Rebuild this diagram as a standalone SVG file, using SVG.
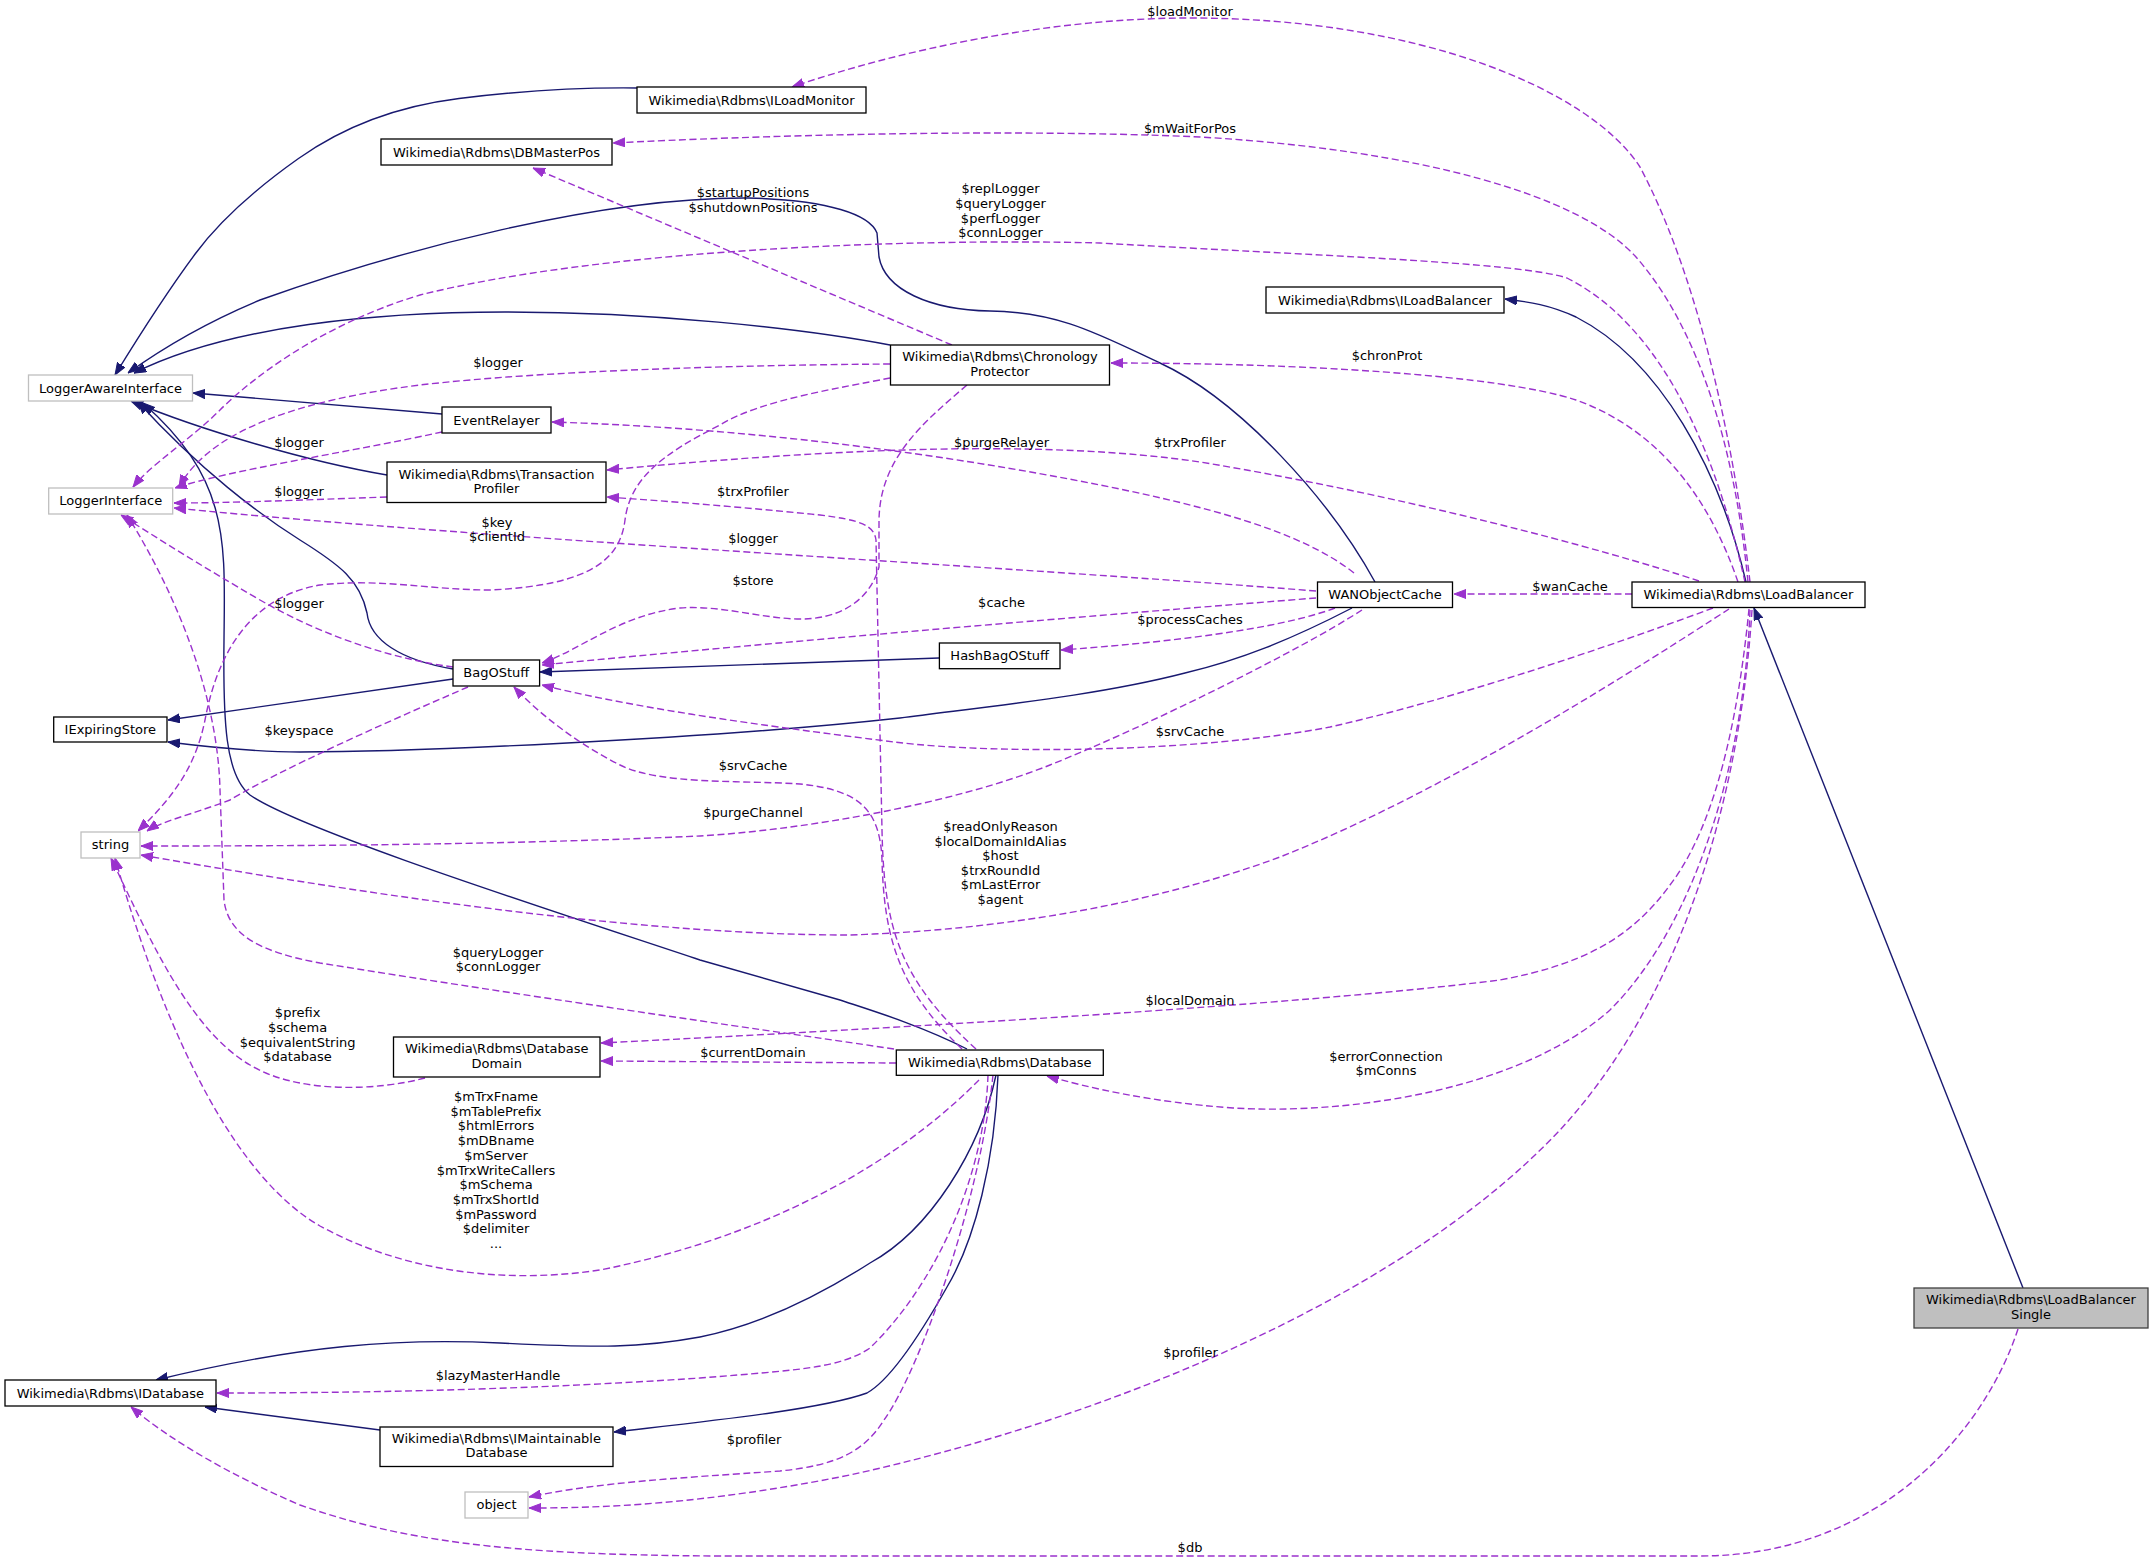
<svg xmlns="http://www.w3.org/2000/svg" width="2153" height="1561" viewBox="0 0 2153 1561">
<style>
text{font-family:"DejaVu Sans","Liberation Sans",sans-serif;font-size:13px;fill:#000;text-anchor:middle}
.n rect{fill:#fff;stroke:#000;stroke-width:1.3}
.g rect{fill:#fff;stroke:#bfbfbf;stroke-width:1.3}
.cur rect{fill:#bfbfbf;stroke:#404040;stroke-width:1.3}
.i{fill:none;stroke:#191970;stroke-width:1.4;marker-end:url(#ai)}
.u{fill:none;stroke:#9a32cd;stroke-width:1.4;stroke-dasharray:7,3.5;marker-end:url(#au)}
</style>
<defs>
<marker id="ai" markerUnits="userSpaceOnUse" markerWidth="12" markerHeight="10" refX="12" refY="5" orient="auto"><path d="M0,0.5 L12,5 L0,9.5 z" fill="#191970" stroke="#191970"/></marker>
<marker id="au" markerUnits="userSpaceOnUse" markerWidth="12" markerHeight="10" refX="12" refY="5" orient="auto"><path d="M0,0.5 L12,5 L0,9.5 z" fill="#9a32cd" stroke="#9a32cd"/></marker>
</defs>
<rect width="2153" height="1561" fill="#fff"/>
<g id="edges">
<!-- inheritance -->
<path class="i" d="M637,88 Q551,87 459,98.5 Q367,110 298.5,158.5 Q230,207 195.5,253.5 Q161,300 115,375"/>
<path class="i" d="M890,345 C800,328 650,312 505,312 C380,312 230,325 134,373"/>
<path class="i" d="M1375,582 C1330,500 1240,400 1160,363 C1100,335 1060,312 990,311 C930,310 885,290 879,257 L877,233 C870,215 830,200 748,198 C600,197 400,250 260,300 C200,325 160,350 128,373"/>
<path class="i" d="M442,414 L193,393"/>
<path class="i" d="M387,475 C310,462 200,430 131,401"/>
<path class="i" d="M453,669 C400,660 370,640 367,613 C360,580 340,565 300,540 C260,515 200,470 138,402"/>
<path class="i" d="M967,1049 C920,1025 870,1010 840,1000 L700,960 C550,910 300,830 250,795 C225,775 223,720 224,640 C225,540 230,480 143,403"/>
<path class="i" d="M453,679 L168,720"/>
<path class="i" d="M1352,608 C1290,640 1240,660 1185,673 C1100,695 1000,705 900,718 C700,740 400,752 300,752 C250,752 200,746 168,742"/>
<path class="i" d="M939,658 L540,672"/>
<path class="i" d="M1746,582 C1720,470 1660,360 1576,317 C1550,305 1530,302 1505,299"/>
<path class="i" d="M2023,1288 L1754,608"/>
<path class="i" d="M996,1075 C980,1150 930,1230 870,1263 C820,1295 760,1325 700,1337 C640,1348 600,1348 500,1343 C400,1338 300,1345 156,1380"/>
<path class="i" d="M998,1075 C995,1160 975,1240 947,1287 C920,1335 890,1380 867,1393 C820,1410 700,1422 614,1432"/>
<path class="i" d="M380,1430 L205,1407"/>
<!-- usage -->
<path class="u" d="M1750,582 C1735,450 1700,280 1640,167 C1590,90 1420,18 1190,18 C1050,18 900,50 792,87"/>
<path class="u" d="M1748,582 C1735,450 1700,330 1636,257 C1580,195 1420,150 1200,137 C1000,128 750,136 613,143"/>
<path class="u" d="M1745,582 C1720,470 1670,330 1567,278 C1520,262 1300,255 1100,243 C900,238 600,250 420,295 C320,325 250,380 220,410 C190,440 150,465 133,487"/>
<path class="u" d="M1738,582 C1710,500 1660,430 1576,400 C1500,375 1300,363 1111,363"/>
<path class="u" d="M890,364 C750,365 550,370 420,385 C300,400 210,430 179,487"/>
<path class="u" d="M442,432 C350,452 230,470 175,488"/>
<path class="u" d="M387,497 C300,500 230,503 174,503"/>
<path class="u" d="M1316,591 C1000,566 500,540 174,508"/>
<path class="u" d="M952,345 L533,168"/>
<path class="u" d="M967,385 C920,425 880,460 879,520 L879,567 C870,600 840,620 797,619 C760,618 720,605 680,608 C620,615 580,650 542,663"/>
<path class="u" d="M1354,573 C1300,530 1200,505 1100,485 C950,455 750,428 552,422"/>
<path class="u" d="M1699,581 C1600,548 1400,495 1200,462 C1050,440 850,447 607,470"/>
<path class="u" d="M976,1049 C900,980 884,930 882,830 L876,540 C874,525 860,520 820,515 C750,508 680,502 607,497"/>
<path class="u" d="M1316,598 C1100,615 800,640 542,665"/>
<path class="u" d="M1335,608 C1290,625 1200,640 1061,650"/>
<path class="u" d="M1713,608 C1600,650 1450,700 1330,727 C1200,752 1000,755 894,742 C800,730 650,712 542,685"/>
<path class="u" d="M962,1049 C900,990 884,940 882,860 C880,810 860,790 800,784 C740,780 660,785 620,765 C580,745 540,715 514,687"/>
<path class="u" d="M1632,594 L1454,594"/>
<path class="u" d="M1362,610 C1300,650 1150,725 1050,765 C950,805 800,830 700,836 C500,845 300,846 141,846"/>
<path class="u" d="M1729,609 C1650,660 1450,790 1280,857 C1150,905 1000,930 850,935 C650,935 400,900 141,855"/>
<path class="u" d="M979,1080 C920,1140 800,1230 600,1270 C500,1285 400,1270 320,1226 C240,1180 170,1050 115,858"/>
<path class="u" d="M425,1078 C380,1090 300,1095 250,1065 C190,1030 150,940 111,858"/>
<path class="u" d="M890,378 C840,388 760,400 720,425 C660,455 630,480 625,520 C620,560 590,585 491,590 C430,590 380,578 320,585 C260,595 220,640 205,720 C195,770 170,800 138,831"/>
<path class="u" d="M468,687 C380,725 280,770 230,800 C190,815 160,822 147,831"/>
<path class="u" d="M894,1049 C800,1035 550,1000 320,963 C260,952 228,935 224,900 L220,790 C218,700 180,600 127,515"/>
<path class="u" d="M453,667 C400,660 330,640 260,600 C200,565 160,540 121,515"/>
<path class="u" d="M1749,609 C1740,700 1720,820 1670,885 C1630,940 1580,965 1500,980 C1300,1005 900,1028 601,1043"/>
<path class="u" d="M896,1063 L601,1061"/>
<path class="u" d="M1750,610 C1745,750 1700,920 1610,1010 C1520,1090 1350,1115 1233,1108 C1150,1102 1090,1088 1047,1076"/>
<path class="u" d="M1752,610 C1740,800 1680,1000 1560,1130 C1400,1300 1100,1420 850,1475 C700,1505 600,1508 529,1508"/>
<path class="u" d="M993,1075 C980,1200 920,1370 884,1420 C865,1450 840,1465 780,1471 C680,1478 600,1482 529,1497"/>
<path class="u" d="M988,1075 C985,1170 940,1280 870,1348 C840,1368 800,1370 700,1378 C550,1388 400,1393 217,1393"/>
<path class="u" d="M2018,1329 C1985,1430 1880,1556 1700,1556 L720,1556 C500,1555 400,1540 300,1505 C230,1475 170,1440 131,1407"/>
<!-- labels -->
<text x="1190" y="16">$loadMonitor</text>
<text x="1190" y="132.5">$mWaitForPos</text>
<text x="753" y="197">$startupPositions</text>
<text x="753" y="212">$shutdownPositions</text>
<text x="1000.5" y="193">$replLogger</text>
<text x="1000.5" y="208">$queryLogger</text>
<text x="1000.5" y="223">$perfLogger</text>
<text x="1000.5" y="237">$connLogger</text>
<text x="1387" y="360">$chronProt</text>
<text x="498" y="367">$logger</text>
<text x="299" y="447">$logger</text>
<text x="1001.5" y="447">$purgeRelayer</text>
<text x="1190" y="447">$trxProfiler</text>
<text x="299" y="496">$logger</text>
<text x="753" y="496">$trxProfiler</text>
<text x="497" y="527">$key</text>
<text x="497" y="541">$clientId</text>
<text x="753" y="543">$logger</text>
<text x="753" y="585">$store</text>
<text x="1570" y="591">$wanCache</text>
<text x="1001.5" y="607">$cache</text>
<text x="299" y="608">$logger</text>
<text x="1190" y="624">$processCaches</text>
<text x="299" y="735">$keyspace</text>
<text x="1190" y="736">$srvCache</text>
<text x="753" y="769.5">$srvCache</text>
<text x="753" y="817">$purgeChannel</text>
<text x="1000.5" y="831">$readOnlyReason</text>
<text x="1000.5" y="845.6">$localDomainIdAlias</text>
<text x="1000.5" y="860.2">$host</text>
<text x="1000.5" y="874.8">$trxRoundId</text>
<text x="1000.5" y="889.4">$mLastError</text>
<text x="1000.5" y="904">$agent</text>
<text x="498" y="956.5">$queryLogger</text>
<text x="498" y="971">$connLogger</text>
<text x="1190" y="1005">$localDomain</text>
<text x="297.6" y="1017">$prefix</text>
<text x="297.6" y="1032">$schema</text>
<text x="297.6" y="1047">$equivalentString</text>
<text x="297.6" y="1061">$database</text>
<text x="753" y="1057">$currentDomain</text>
<text x="1386" y="1060.5">$errorConnection</text>
<text x="1386" y="1075">$mConns</text>
<text x="496" y="1101">$mTrxFname</text>
<text x="496" y="1115.7">$mTablePrefix</text>
<text x="496" y="1130.4">$htmlErrors</text>
<text x="496" y="1145.1">$mDBname</text>
<text x="496" y="1159.8">$mServer</text>
<text x="496" y="1174.5">$mTrxWriteCallers</text>
<text x="496" y="1189.2">$mSchema</text>
<text x="496" y="1203.9">$mTrxShortId</text>
<text x="496" y="1218.6">$mPassword</text>
<text x="496" y="1233.3">$delimiter</text>
<text x="496" y="1248">...</text>
<text x="1190.5" y="1357">$profiler</text>
<text x="498" y="1380">$lazyMasterHandle</text>
<text x="754" y="1444">$profiler</text>
<text x="1190" y="1552">$db</text>
</g>
<g id="node-ILoadMonitor" class="n"><rect x="637" y="87" width="229" height="26"/><text x="751.5" y="104.5">Wikimedia\Rdbms\ILoadMonitor</text></g>
<g id="node-DBMasterPos" class="n"><rect x="381" y="139" width="231" height="26"/><text x="496.5" y="156.5">Wikimedia\Rdbms\DBMasterPos</text></g>
<g id="node-ILoadBalancer" class="n"><rect x="1266" y="287" width="238" height="26"/><text x="1385" y="304.5">Wikimedia\Rdbms\ILoadBalancer</text></g>
<g id="node-ChronologyProtector" class="n"><rect x="890.5" y="345" width="219" height="40"/><text x="1000" y="361">Wikimedia\Rdbms\Chronology</text><text x="1000" y="376">Protector</text></g>
<g id="node-LoggerAwareInterface" class="g"><rect x="28.5" y="375" width="164" height="26"/><text x="110.5" y="392.5">LoggerAwareInterface</text></g>
<g id="node-EventRelayer" class="n"><rect x="442" y="407" width="109" height="26"/><text x="496.5" y="424.5">EventRelayer</text></g>
<g id="node-TransactionProfiler" class="n"><rect x="387" y="462" width="219" height="40.5"/><text x="496.5" y="479">Wikimedia\Rdbms\Transaction</text><text x="496.5" y="493">Profiler</text></g>
<g id="node-LoggerInterface" class="g"><rect x="48.7" y="488" width="124" height="26"/><text x="110.7" y="505">LoggerInterface</text></g>
<g id="node-WANObjectCache" class="n"><rect x="1317.5" y="582" width="135" height="25.5"/><text x="1385" y="599">WANObjectCache</text></g>
<g id="node-LoadBalancer" class="n"><rect x="1632" y="582" width="233" height="25.5"/><text x="1748.5" y="599">Wikimedia\Rdbms\LoadBalancer</text></g>
<g id="node-HashBagOStuff" class="n"><rect x="939.4" y="643" width="120.6" height="25.7"/><text x="999.7" y="660">HashBagOStuff</text></g>
<g id="node-BagOStuff" class="n"><rect x="453" y="660" width="86.6" height="26"/><text x="496.3" y="677">BagOStuff</text></g>
<g id="node-IExpiringStore" class="n"><rect x="53.7" y="717" width="113.3" height="25"/><text x="110.3" y="733.5">IExpiringStore</text></g>
<g id="node-string" class="g"><rect x="81" y="832" width="59" height="26"/><text x="110.5" y="849">string</text></g>
<g id="node-DatabaseDomain" class="n"><rect x="393.5" y="1037" width="206.5" height="40"/><text x="496.7" y="1053">Wikimedia\Rdbms\Database</text><text x="496.7" y="1068">Domain</text></g>
<g id="node-Database" class="n"><rect x="896.3" y="1050" width="207" height="25.3"/><text x="999.8" y="1067">Wikimedia\Rdbms\Database</text></g>
<g id="node-LoadBalancerSingle" class="cur"><rect x="1914" y="1288" width="234" height="40"/><text x="2031" y="1304">Wikimedia\Rdbms\LoadBalancer</text><text x="2031" y="1319">Single</text></g>
<g id="node-IDatabase" class="n"><rect x="5" y="1380" width="211" height="26"/><text x="110.4" y="1397.5">Wikimedia\Rdbms\IDatabase</text></g>
<g id="node-IMaintainableDatabase" class="n"><rect x="380" y="1427" width="233" height="39.5"/><text x="496.4" y="1443">Wikimedia\Rdbms\IMaintainable</text><text x="496.4" y="1457">Database</text></g>
<g id="node-object" class="g"><rect x="465" y="1492" width="63" height="26"/><text x="496.5" y="1509">object</text></g>
</svg>
